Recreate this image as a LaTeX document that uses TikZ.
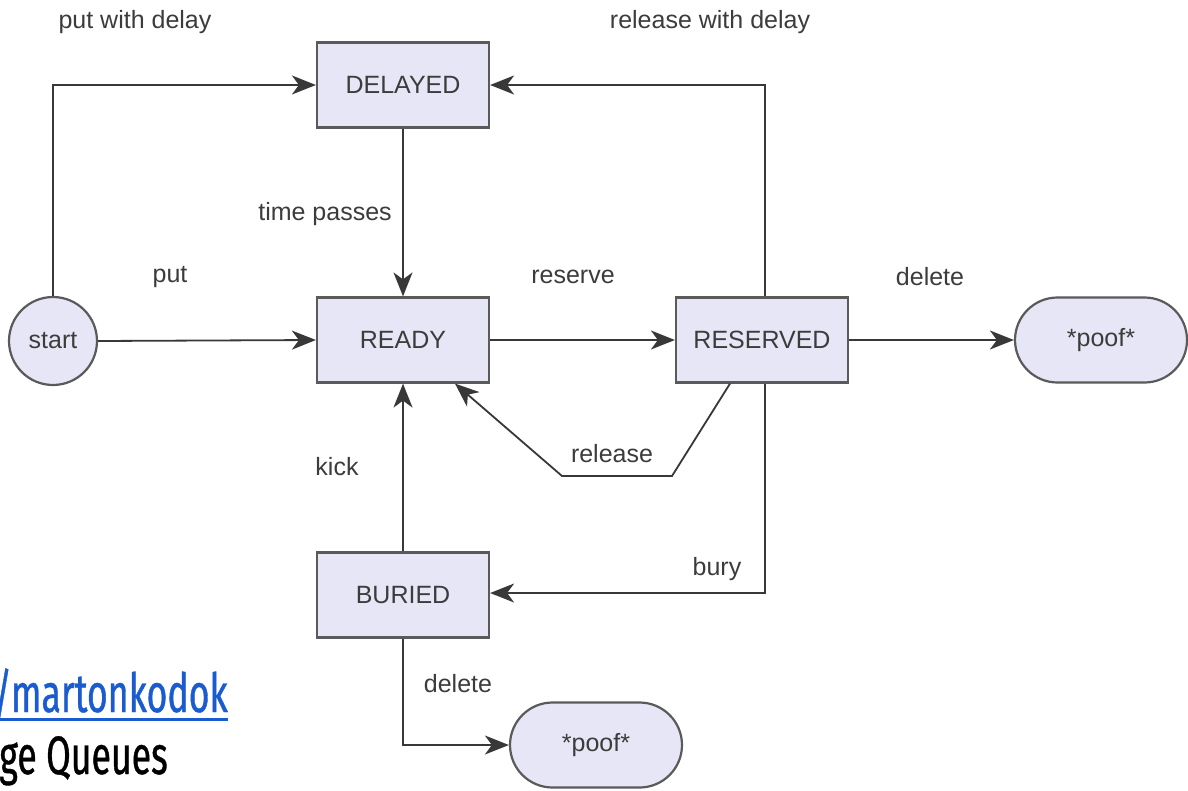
\documentclass[tikz,border=0pt]{standalone}
\usepackage{fontspec}
\setmainfont{Liberation Sans}
\newfontfamily\slidefont[FakeStretch=0.66,FakeBold=0.7]{Fira Sans}
\usetikzlibrary{arrows.meta,shapes.misc}
\definecolor{statefill}{HTML}{E6E6F6}
\definecolor{stateline}{HTML}{5A5A5A}
\definecolor{wire}{HTML}{383838}
\definecolor{labeltext}{HTML}{3C3C3C}
\definecolor{linkblue}{HTML}{1A5CCF}
\tikzset{
  statebox/.style={draw=stateline, line width=2.2pt, fill=statefill,
    minimum width=172pt, minimum height=85pt, inner sep=0pt,
    text=labeltext, font=\fontsize{25}{30}\selectfont},
  endstate/.style={statebox, rounded rectangle},
  startstate/.style={draw=stateline, line width=2.2pt, fill=statefill, circle,
    minimum size=88pt, inner sep=0pt, text=labeltext, font=\fontsize{25}{30}\selectfont},
  trans/.style={draw=wire, line width=1.8pt, -{Stealth[length=24pt,width=19pt,inset=7pt]}},
  tlabel/.style={text=labeltext, font=\fontsize{25}{30}\selectfont, inner sep=0pt},
}
\begin{document}
\begin{tikzpicture}[x=1pt,y=-1pt]
\useasboundingbox[fill=white] (0,0) rectangle (1188,790);

% states
\node[startstate] (start) at (53,341) {start};
\node[statebox] (delayed) at (403,85) {DELAYED};
\node[statebox] (ready) at (403,340) {READY};
\node[statebox] (reserved) at (762,340) {RESERVED};
\node[statebox] (buried) at (403,595) {BURIED};
\node[endstate] (poof1) at (1101,340) {*poof*};
\node[endstate] (poof2) at (596,745) {*poof*};

% bend points of the routed transitions
\coordinate (relA) at (672,476);
\coordinate (relB) at (562,476);

% transitions
\draw[trans] (start.north) |- (delayed.west);
\draw[trans] (start.east) -- (ready.west);
\draw[trans] (delayed.south) -- (ready.north);
\draw[trans] (ready.east) -- (reserved.west);
\draw[trans] (reserved.east) -- (poof1.west);
\draw[trans] ([xshift=3pt]reserved.north) |- (delayed.east);
\draw[trans] ([xshift=-32pt]reserved.south) -- (relA) -- (relB) -- ([xshift=52pt]ready.south);
\draw[trans] ([xshift=3pt]reserved.south) |- ([yshift=2pt]buried.east);
\draw[trans] (buried.north) -- (ready.south);
\draw[trans] (buried.south) |- (poof2.west);

% transition labels
\node[tlabel] (lputdelay) at (135,22) {put with delay};
\node[tlabel] (lput) at (170,277) {put};
\node[tlabel] (ltime) at (325,214) {time passes};
\node[tlabel] (lreserve) at (573,277) {reserve};
\node[tlabel] (ldelete1) at (930,277) {delete};
\node[tlabel] (lreldelay) at (710,22) {release with delay};
\node[tlabel] (lrelease) at (612,454) {release};
\node[tlabel] (lbury) at (717,569) {bury};
\node[tlabel] (lkick) at (337,467) {kick};
\node[tlabel] (ldelete2) at (458,684) {delete};

% slide text along the lower left edge
\node[anchor=base east, inner sep=0pt, text=linkblue, font=\slidefont\fontsize{54}{60}\selectfont]
  (link) at (228,712) {/martonkodok};
\draw[linkblue, line width=3pt] (-5,719.5) -- (228,719.5);
\node[anchor=base east, inner sep=0pt, text=black, font=\slidefont\fontsize{54}{60}\selectfont]
  (title) at (168,774) {ge Queues};
\end{tikzpicture}
\end{document}
